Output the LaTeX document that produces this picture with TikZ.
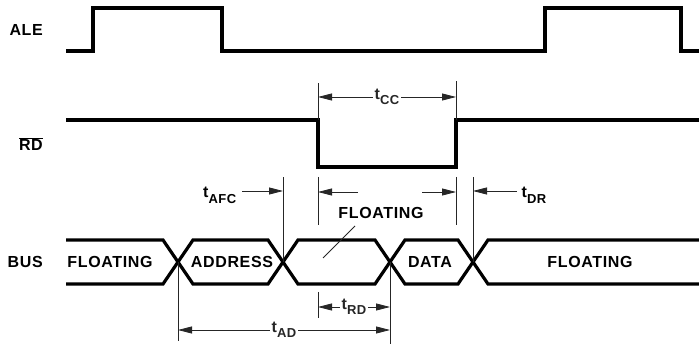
\documentclass[tikz,border=0pt]{standalone}
\usepackage{fontspec}
\setmainfont{Liberation Sans}[LetterSpace=4]
\usetikzlibrary{arrows.meta,positioning}

% timing parameter label: t with a lowered subscript
\newcommand{\tpar}[1]{t\raisebox{-0.32em}{\fontsize{13}{15}\selectfont #1}}

\begin{document}
\begin{tikzpicture}[x=1pt,y=-1pt,
    wave/.style={line width=3.2pt, line join=miter},
    guide/.style={line width=0.8pt, black!85},
    dimarrow/.style={guide, {Triangle[length=14pt,width=7pt]}-{Triangle[length=14pt,width=7pt]}},
    toarrow/.style={guide, -{Triangle[length=14pt,width=7pt]}},
    signame/.style={font=\fontsize{16}{19}\selectfont\bfseries, anchor=east, inner sep=0pt},
    txt/.style={font=\fontsize{16}{19}\selectfont\bfseries, inner sep=1.5pt}]

    \useasboundingbox (0,0) rectangle (699,344);

    % Signal names
    \node[signame] (ale) at (43,30) {ALE};
    \node[signame] (rd) at (43,144) {$\overline{\hbox{\bfseries RD}}$};
    \node[signame] (bus) at (43,262) {BUS};

    % ALE and RD waveforms
    \draw[wave] (66,51) -- (93,51) -- (93,8) -- (222,8) -- (222,51) -- (545,51) -- (545,8) -- (681,8) -- (681,51) -- (699,51);
    \draw[wave] (66,120) -- (318,120) -- (318,167) -- (456,167) -- (456,120) -- (699,120);

    % BUS waveform, two crossing lines
    \draw[wave] (66,240) -- (163,240) -- (193,284) -- (268,284) -- (298,240) -- (375,240) -- (405,284) -- (458,284) -- (488,240) -- (699,240);
    \draw[wave] (66,284) -- (163,284) -- (193,240) -- (268,240) -- (298,284) -- (375,284) -- (405,240) -- (458,240) -- (488,284) -- (699,284);

    % Edge points
    \coordinate (rdfall) at (318,120);
    \coordinate (rdrise) at (456,120);
    \coordinate (x1) at (178,262);
    \coordinate (x2) at (283,262);
    \coordinate (x3) at (390,262);
    \coordinate (x4) at (473,262);

    % BUS labels
    \node[txt] (flt1) at (110,262) {FLOATING};
    \node[txt] (addr) at (232,262) {ADDRESS};
    \node[txt] (data) at (430,262) {DATA};
    \node[txt] (flt2) at (590,262) {FLOATING};
    \node[txt] (flt3) at (381,213) {FLOATING};
    \coordinate (leadtop) at (355,226);
    \coordinate (leadend) at (323,258);
    \draw[guide] (leadtop) -- (leadend);

    % t_CC
    \draw[guide] (rdfall) -- (rdfall |- 0,83);
    \draw[guide] (rdrise) -- (rdrise |- 0,81);
    \draw[dimarrow] (rdfall |- 0,97) -- (rdrise |- 0,97) node[midway, fill=white, txt] (tcc) {\tpar{CC}};

    % t_AFC
    \draw[guide] (x2) -- (x2 |- 0,177);
    \coordinate (afcstart) at (242,191);
    \draw[toarrow] (afcstart) -- (x2 |- afcstart);
    \node[txt, anchor=base east] (tafc) at (238,198) {\tpar{AFC}};

    % pulse width marks below RD
    \draw[guide] (318,177) -- (318,225);
    \draw[guide] (456,177) -- (456,225);
    \coordinate (ccl) at (358,192);
    \coordinate (ccr) at (422,192);
    \draw[toarrow] (ccl) -- (318,192);
    \draw[toarrow] (ccr) -- (456,192);

    % t_DR
    \draw[guide] (x4) -- (x4 |- 0,177);
    \coordinate (drstart) at (517,191);
    \draw[toarrow] (drstart) -- (x4 |- drstart);
    \node[txt, anchor=base west] (tdr) at (520,198) {\tpar{DR}};

    % t_RD
    \draw[guide] (318,292) -- (318,318);
    \draw[guide] (x3) -- (x3 |- 0,344);
    \draw[dimarrow] (318,307) -- (x3 |- 0,307) node[midway, fill=white, txt] (trd) {\tpar{RD}};

    % t_AD
    \draw[guide] (x1) -- (x1 |- 0,341);
    \draw[dimarrow] (x1 |- 0,330) -- (x3 |- 0,330) node[midway, fill=white, txt] (tad) {\tpar{AD}};
\end{tikzpicture}
\end{document}
